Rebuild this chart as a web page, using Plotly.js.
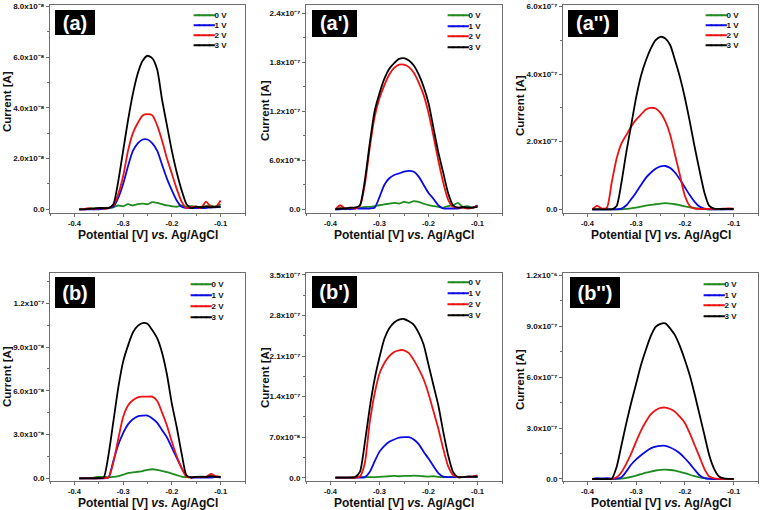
<!DOCTYPE html>
<html><head><meta charset="utf-8">
<script src="https://cdn.plot.ly/plotly-3.0.1.min.js"></script>
<style>body{margin:0;background:#fff}#chart{width:760px;height:510px}</style>
</head><body><div id="chart"></div>
<script>
// ---------- data ----------
const potential = [-0.39,-0.38,-0.37,-0.36,-0.35,-0.34,-0.33,-0.32,-0.31,-0.30,-0.29,-0.28,-0.27,-0.26,-0.25,-0.24,-0.23,-0.22,-0.21,-0.20,-0.19,-0.18,-0.17,-0.16,-0.15,-0.14,-0.13,-0.12,-0.11,-0.10];
const seriesNames = ['0 V','1 V','2 V','3 V'];
const seriesColors = ['#1e8c1e','#0a0ae6','#ee1111','#000000'];
const panelLabels = ['(a)',"(a')","(a'')",'(b)',"(b')","(b'')"];

// panel (a), current in units of 1e-8 A
const a_0V = [0.00,0.02,0.03,0.04,0.05,0.05,0.06,0.08,0.15,0.12,0.20,0.15,0.20,0.22,0.20,0.28,0.25,0.20,0.15,0.12,0.10,0.15,0.10,0.12,0.10,0.10,0.12,0.15,0.10,0.20];
const a_1V = [0.00,0.00,0.00,0.00,0.00,0.02,0.05,0.10,0.45,1.00,1.70,2.30,2.60,2.75,2.75,2.60,2.30,1.75,1.20,0.75,0.35,0.10,0.05,0.05,0.05,0.05,0.05,0.08,0.08,0.10];
const a_2V = [0.00,0.00,0.05,0.00,0.05,0.03,0.05,0.15,0.60,1.30,2.30,3.00,3.40,3.70,3.75,3.70,3.30,2.70,2.00,1.40,0.80,0.30,0.05,0.10,0.10,0.05,0.30,0.10,0.10,0.35];
const a_3V = [0.00,0.00,0.02,0.03,0.05,0.05,0.05,0.20,1.10,2.30,3.50,4.55,5.35,5.85,6.05,5.95,5.50,4.30,3.30,2.30,1.45,0.75,0.20,0.05,0.10,0.08,0.10,0.08,0.10,0.10];
// panel (a'), units of 1e-7 A
const ap_0V = [0.00,0.01,0.00,0.01,0.02,0.02,0.03,0.03,0.04,0.05,0.06,0.07,0.08,0.07,0.09,0.08,0.10,0.09,0.07,0.05,0.04,0.03,0.02,0.04,0.05,0.08,0.03,0.04,0.02,0.04];
const ap_1V = [0.00,0.00,0.01,0.00,0.01,0.01,0.01,0.01,0.02,0.15,0.30,0.38,0.42,0.44,0.46,0.47,0.46,0.40,0.30,0.20,0.13,0.05,0.01,0.01,0.01,0.01,0.02,0.02,0.02,0.05];
const ap_2V = [0.00,0.05,0.01,0.02,0.01,0.04,0.30,0.75,1.13,1.36,1.52,1.65,1.73,1.77,1.77,1.74,1.67,1.55,1.40,1.18,0.90,0.60,0.33,0.12,0.03,0.02,0.02,0.01,0.02,0.04];
const ap_3V = [0.00,0.01,0.01,0.02,0.02,0.05,0.35,0.80,1.20,1.42,1.60,1.72,1.79,1.84,1.85,1.82,1.76,1.65,1.50,1.30,1.00,0.70,0.45,0.20,0.05,0.02,0.03,0.02,0.02,0.03];
// panel (a''), units of 1e-7 A
const app_0V = [0,0,0,0,0,0,0,0.01,0.03,0.05,0.08,0.11,0.13,0.15,0.17,0.18,0.17,0.15,0.12,0.09,0.06,0.04,0.02,0.01,0,0,0,0,0.01,0.01];
const app_1V = [0,0,0,0,0,0,0.02,0.12,0.30,0.50,0.72,0.93,1.08,1.20,1.27,1.28,1.22,1.08,0.88,0.65,0.42,0.22,0.08,0.02,0,0,0,0,0,0];
const app_2V = [0,0.10,0.02,0.05,0.80,1.50,1.95,2.20,2.45,2.65,2.80,2.95,3.00,2.98,2.85,2.60,2.20,1.60,1.00,0.40,0.10,0.02,0.01,0.01,0.01,0.01,0.01,0.02,0.03,0.02];
const app_3V = [0,0,0,0,0,0.10,0.80,1.70,2.50,3.30,3.95,4.40,4.75,5.00,5.10,5.05,4.85,4.40,3.90,3.30,2.60,1.85,1.15,0.50,0.10,0.02,0.01,0.01,0.01,0.01];
// panel (b), units of 1e-8 A
const b_0V = [0.00,0.02,0.03,0.05,0.10,0.10,0.08,0.10,0.15,0.25,0.35,0.40,0.45,0.50,0.58,0.62,0.58,0.50,0.42,0.32,0.22,0.12,0.08,0.10,0.10,0.12,0.10,0.15,0.12,0.10];
const b_1V = [0,0,0,0,0,0,0.05,1.20,2.30,3.10,3.70,4.05,4.25,4.30,4.30,4.10,3.80,3.30,2.80,2.10,1.40,0.70,0.15,0.05,0.05,0.05,0.05,0.05,0.10,0.05];
const b_2V = [0,0,0,0,0,0.02,0.05,1.10,2.70,4.20,5.00,5.35,5.55,5.60,5.60,5.60,5.30,4.50,3.60,2.50,1.50,0.70,0.10,0.05,0.10,0.10,0.10,0.30,0.15,0.10];
const b_3V = [0,0,0,0,0.02,0.05,1.60,3.90,6.20,8.00,9.10,10.00,10.45,10.65,10.60,10.15,9.60,8.60,7.10,5.10,3.50,1.70,0.20,0.05,0.10,0.10,0.10,0.15,0.10,0.10];
// panel (b'), units of 1e-7 A
const bp_0V = [0,0,0,0.005,0.005,0.01,0.01,0.01,0.01,0.015,0.02,0.025,0.03,0.025,0.03,0.03,0.035,0.03,0.025,0.02,0.025,0.015,0.01,0.01,0.01,0.01,0.015,0.01,0.01,0.01];
const bp_1V = [0,0,0,0,0,0,0.01,0.10,0.28,0.45,0.55,0.62,0.66,0.69,0.70,0.70,0.66,0.58,0.45,0.33,0.20,0.08,0.02,0.01,0.01,0.01,0.01,0.01,0.02,0.02];
const bp_2V = [0,0,0,0,0,0.02,0.25,0.95,1.45,1.80,1.98,2.10,2.17,2.20,2.20,2.15,2.03,1.88,1.70,1.45,1.15,0.85,0.50,0.20,0.05,0.01,0.01,0.02,0.02,0.04];
const bp_3V = [0,0,0,0,0.01,0.10,0.60,1.20,1.70,2.08,2.40,2.58,2.68,2.73,2.74,2.70,2.64,2.50,2.30,1.95,1.60,1.25,0.80,0.39,0.10,0.01,0.01,0.02,0.02,0.02];
// panel (b''), units of 1e-7 A
const bpp_0V = [0,0,0,0,0,0.01,0.03,0.07,0.13,0.20,0.28,0.37,0.44,0.50,0.54,0.55,0.53,0.49,0.42,0.34,0.25,0.17,0.10,0.05,0.02,0.01,0,0,0,0];
const bpp_1V = [0,0.05,0.03,0.05,0.02,0.02,0.10,0.45,0.85,1.15,1.40,1.62,1.80,1.90,1.95,1.95,1.85,1.70,1.50,1.22,0.90,0.55,0.22,0.05,0.01,0,0,0,0,0];
const bpp_2V = [0,0,0,0,0,0.10,0.40,0.90,1.50,2.20,2.85,3.37,3.80,4.05,4.18,4.20,4.12,3.95,3.65,3.30,2.70,2.00,1.30,0.60,0.15,0.04,0.01,0,0,0];
const bpp_3V = [0,0,0,0,0.02,0.70,2.00,3.30,4.50,5.60,6.70,7.60,8.40,8.95,9.13,9.15,8.85,8.45,7.80,7.00,6.10,5.00,3.80,2.60,1.40,0.60,0.15,0.03,0.01,0.01];

const xTickVals = [-0.4,-0.3,-0.2,-0.1];
const xTickText = ['-0.4','-0.3','-0.2','-0.1'];
const yTickVals_a = [0,2,4,6,8];
const yTickText_a = ['0.0','2.0x10⁻⁸','4.0x10⁻⁸','6.0x10⁻⁸','8.0x10⁻⁸'];
const yTickVals_ap = [0,0.6,1.2,1.8,2.4];
const yTickText_ap = ['0.0','6.0x10⁻⁸','1.2x10⁻⁷','1.8x10⁻⁷','2.4x10⁻⁷'];
const yTickVals_app = [0,2,4,6];
const yTickText_app = ['0.0','2.0x10⁻⁷','4.0x10⁻⁷','6.0x10⁻⁷'];
const yTickVals_b = [0,3,6,9,12];
const yTickText_b = ['0.0','3.0x10⁻⁸','6.0x10⁻⁸','9.0x10⁻⁸','1.2x10⁻⁷'];
const yTickVals_bp = [0,0.7,1.4,2.1,2.8,3.5];
const yTickText_bp = ['0.0','7.0x10⁻⁸','1.4x10⁻⁷','2.1x10⁻⁷','2.8x10⁻⁷','3.5x10⁻⁷'];
const yTickVals_bpp = [0,3,6,9,12];
const yTickText_bpp = ['0.0','3.0x10⁻⁷','6.0x10⁻⁷','9.0x10⁻⁷','1.2x10⁻⁶'];

const xTitle = 'Potential [V] <i>vs.</i> Ag/AgCl';
const yTitle = 'Current [A]';

// ---------- layout geometry (pixels in the 760x510 figure) ----------
const W = 760, H = 510;
const panels = [
  {series:[a_0V,a_1V,a_2V,a_3V], tv:yTickVals_a, tt:yTickText_a, yr:[-0.146,8.05], minor:1, px:[50,245], py:[5,213], box:[55,10,40,25], legX:193, legY:[15,25,35,45], xtY:235, ytX:7, ytY:102},
  {series:[ap_0V,ap_1V,ap_2V,ap_3V], tv:yTickVals_ap, tt:yTickText_ap, yr:[-0.045,2.50], minor:0.3, px:[306,502], py:[5,213], box:[311.5,10,45,26.5], legX:446.5, legY:[15,25.5,36,46.5], xtY:235, ytX:265, ytY:111},
  {series:[app_0V,app_1V,app_2V,app_3V], tv:yTickVals_app, tt:yTickText_app, yr:[-0.109,6.04], minor:1, px:[563,758], py:[5,213], box:[568,10,50,26.5], legX:705, legY:[15,25,35,45], xtY:235, ytX:520, ytY:106},
  {series:[b_0V,b_1V,b_2V,b_3V], tv:yTickVals_b, tt:yTickText_b, yr:[-0.185,14.06], minor:1.5, px:[50,245], py:[273.3,481], box:[55,277.3,40,31], legX:190, legY:[284,295,305.7,316.7], xtY:503, ytX:7, ytY:377},
  {series:[bp_0V,bp_1V,bp_2V,bp_3V], tv:yTickVals_bp, tt:yTickText_bp, yr:[-0.057,3.529], minor:0.35, px:[306,502], py:[273.3,481], box:[311.5,276.7,45,31.5], legX:446.5, legY:[282,293,304,315], xtY:503, ytX:265, ytY:378},
  {series:[bpp_0V,bpp_1V,bpp_2V,bpp_3V], tv:yTickVals_bpp, tt:yTickText_bpp, yr:[-0.118,12.1], minor:1.5, px:[563,758], py:[273.3,481], box:[570,277.3,50,31], legX:703, legY:[284,294.5,305,315.7], xtY:503, ytX:520, ytY:380}
];

const FONT = 'Liberation Sans, Arial, Helvetica, sans-serif';
const AX = '#6e6e6e';
const traces = [];
const layout = {
  width:W, height:H, margin:{l:0,r:0,t:0,b:0},
  paper_bgcolor:'#ffffff', plot_bgcolor:'#ffffff',
  font:{family:FONT, color:'#111111'},
  showlegend:false, hovermode:false,
  annotations:[]
};

panels.forEach((p,i)=>{
  const n = i+1;
  const xa = 'xaxis'+(n===1?'':n), ya = 'yaxis'+(n===1?'':n);
  const xr = 'x'+(n===1?'':n), yr = 'y'+(n===1?'':n);
  p.series.forEach((s,k)=>{
    traces.push({x:potential, y:s, xaxis:xr, yaxis:yr, type:'scatter', mode:'lines',
      name:seriesNames[k], line:{color:seriesColors[k], width:1.8, shape:'spline', smoothing:0.6},
      hoverinfo:'skip', showlegend:false});
  });
  layout[xa] = {
    domain:[p.px[0]/W, p.px[1]/W], anchor:yr, range:[-0.45,-0.05],
    tickmode:'array', tickvals:xTickVals, ticktext:xTickText,
    ticks:'outside', ticklen:3, tickwidth:1, tickcolor:AX,
    showline:true, linecolor:AX, linewidth:1, mirror:true,
    showgrid:false, zeroline:false, fixedrange:true,
    tickfont:{family:FONT, size:7.5, weight:'bold', color:'#111'},
    minor:{ticks:'outside', ticklen:2, tickmode:'linear', tick0:-0.4, dtick:0.05, tickcolor:AX, showgrid:false}
  };
  layout[ya] = {
    domain:[1-p.py[1]/H, 1-p.py[0]/H], anchor:xr, range:p.yr,
    tickmode:'array', tickvals:p.tv, ticktext:p.tt,
    ticks:'outside', ticklen:3, tickwidth:1, tickcolor:AX,
    showline:true, linecolor:AX, linewidth:1, mirror:true,
    showgrid:false, zeroline:false, fixedrange:true,
    tickfont:{family:FONT, size:8, weight:'bold', color:'#111'},
    minor:{ticks:'outside', ticklen:2, tickmode:'linear', tick0:0, dtick:p.minor, tickcolor:AX, showgrid:false}
  };
  // axis titles
  layout.annotations.push({
    xref:'paper', yref:'paper', x:(p.px[0]+p.px[1])/2/W, y:1-p.xtY/H,
    xanchor:'center', yanchor:'middle', showarrow:false,
    text:'<b>'+xTitle+'</b>', font:{family:FONT, size:12, color:'#111'}
  });
  layout.annotations.push({
    xref:'paper', yref:'paper', x:p.ytX/W, y:1-p.ytY/H, textangle:-90,
    xanchor:'center', yanchor:'middle', showarrow:false,
    text:'<b>'+yTitle+'</b>', font:{family:FONT, size:11.5, color:'#111'}
  });
  // panel label
  layout.annotations.push({
    xref:'paper', yref:'paper', x:(p.box[0]+p.box[2]/2)/W, y:1-(p.box[1]+p.box[3]/2)/H,
    xanchor:'center', yanchor:'middle', showarrow:false,
    text:'<b>'+panelLabels[i]+'</b>', font:{family:FONT, size:20, color:'#ffffff'},
    bgcolor:'#000000', borderwidth:0, borderpad:0, width:p.box[2], height:p.box[3]
  });
  // series key, one entry per line
  seriesNames.forEach((nm,k)=>{
    layout.annotations.push({
      xref:'paper', yref:'paper', x:p.legX/W, y:1-p.legY[k]/H,
      xanchor:'left', yanchor:'middle', align:'left', showarrow:false,
      text:'<span style="color:'+seriesColors[k]+';stroke:'+seriesColors[k]+';stroke-width:0.7px;font-family:DejaVu Sans;font-size:8.5px">━━━━</span><b>'+nm+'</b>',
      font:{family:FONT, size:8, color:'#111'},
      borderpad:0, borderwidth:0
    });
  });
});

Plotly.newPlot('chart', traces, layout, {displayModeBar:false, staticPlot:true});
</script>
</body></html>
